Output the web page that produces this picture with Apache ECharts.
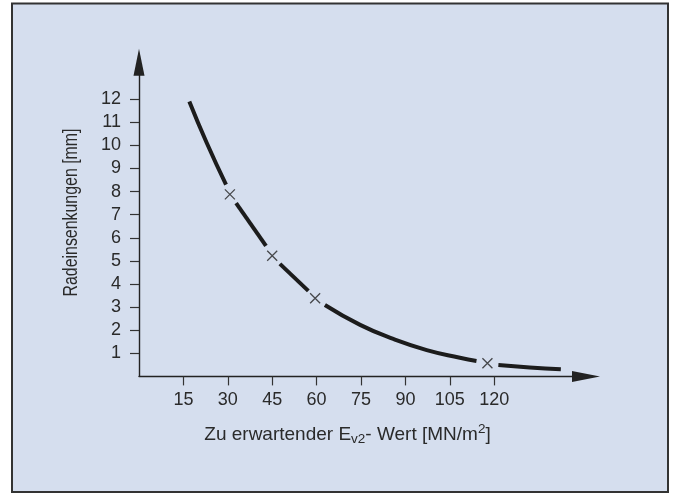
<!DOCTYPE html>
<html>
<head>
<meta charset="utf-8">
<script src="https://cdn.jsdelivr.net/npm/echarts@6/dist/echarts.min.js"></script>
<style>
html,body{margin:0;padding:0;background:#fff;}
#c{width:674px;height:494px;}
</style>
</head>
<body>
<div id="c"></div>
<script>
// Tick labels
const xTicks = [15, 30, 45, 60, 75, 90, 105, 120];
const yTicks = [1, 2, 3, 4, 5, 6, 7, 8, 9, 10, 11, 12];
const yTitle = 'Radeinsenkungen [mm]';

const seg1 = [[17, 11.9], [22.9, 10.1], [29.4, 8.3]];
const seg2 = [[32.8, 7.5], [42.9, 5.65]];
const seg3 = [[47.6, 4.87], [57.2, 3.7]];
const seg4 = [[62.8, 3.09], [74.7, 2.23], [85.9, 1.62], [97.2, 1.14], [108.4, 0.81], [114.0, 0.67]];
const seg5 = [[121.4, 0.49], [132, 0.39], [142.5, 0.31]];
const curveSegments = [seg1, seg2, seg3, seg4, seg5];

// Measured points (crosses)
const measured = [[30.7, 7.88], [45, 5.22], [59.5, 3.38], [117.7, 0.57]];

const FONT = 'Liberation Sans, Arial, Helvetica, sans-serif';
const TXT = '#2a2a2a';

const chart = echarts.init(document.getElementById('c'), null, {renderer: 'canvas'});

const series = curveSegments.map(function (seg) {
  return {
    type: 'line',
    data: seg,
    smooth: true,
    showSymbol: false,
    symbol: 'none',
    lineStyle: {color: '#1c1c1c', width: 4, cap: 'butt'},
    silent: true,
    z: 3
  };
});
series.push({
  type: 'scatter',
  data: measured,
  symbol: 'path://M0,0L10,10M10,0L0,10',
  symbolSize: 10,
  itemStyle: {color: 'none', borderColor: '#222', borderWidth: 1.3},
  silent: true,
  z: 4
});

chart.setOption({
  backgroundColor: '#ffffff',
  animation: false,
  graphic: [{
    type: 'rect',
    z: -10,
    silent: true,
    shape: {x: 12, y: 3.5, width: 656, height: 488.5},
    style: {fill: '#d5deee', stroke: '#333', lineWidth: 2}
  }, {
    type: 'text',
    silent: true,
    x: 71.5,
    y: 212.5,
    rotation: Math.PI / 2,
    scaleX: 0.795,
    style: {
      text: yTitle,
      font: '20px ' + FONT,
      fill: TXT,
      align: 'center',
      verticalAlign: 'middle'
    }
  }],
  grid: {left: 139, right: 88, top: 62.2, bottom: 117.6, containLabel: false},
  xAxis: {
    type: 'value',
    min: 0,
    max: 151,
    name: '{a|Zu erwartender E}{s|v2}{a|- Wert [MN/m}{p|2}{a|]}',
    nameLocation: 'middle',
    nameGap: 46,
    nameTextStyle: {
      padding: [0, 30, 0, 0],
      rich: {
        a: {fontSize: 19, lineHeight: 24, color: TXT, fontFamily: FONT},
        s: {fontSize: 13.5, lineHeight: 15, verticalAlign: 'bottom', color: TXT, fontFamily: FONT},
        p: {fontSize: 13.5, lineHeight: 15, verticalAlign: 'top', color: TXT, fontFamily: FONT}
      }
    },
    axisLine: {
      show: true,
      symbol: ['none', 'triangle'],
      symbolSize: [11, 28],
      lineStyle: {color: '#222', width: 1.4}
    },
    axisTick: {show: true, customValues: xTicks, length: 9, lineStyle: {color: '#333', width: 1.2}},
    axisLabel: {show: true, customValues: xTicks, margin: 15, fontSize: 18, color: TXT, fontFamily: FONT},
    splitLine: {show: false}
  },
  yAxis: {
    type: 'value',
    min: 0,
    max: 13.6,
    axisLine: {
      show: true,
      symbol: ['none', 'triangle'],
      symbolSize: [11, 27],
      lineStyle: {color: '#222', width: 1.4}
    },
    axisTick: {show: true, customValues: yTicks, length: 9, lineStyle: {color: '#333', width: 1.2}},
    axisLabel: {show: true, customValues: yTicks, margin: 18, fontSize: 18, color: TXT, fontFamily: FONT},
    splitLine: {show: false}
  },
  series: series
});
</script>
</body>
</html>
